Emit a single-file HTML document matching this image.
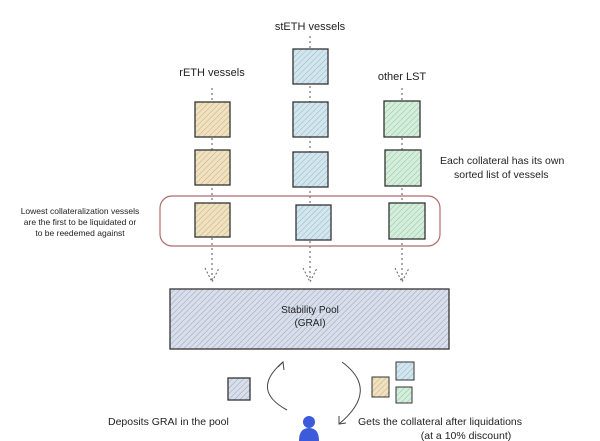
<!DOCTYPE html><html><head><style>body{margin:0;background:#fff}svg{display:block}text{font-family:"Liberation Sans",sans-serif;fill:#222}</style></head><body>
<svg width="600" height="441" viewBox="0 0 600 441" xmlns="http://www.w3.org/2000/svg">
<defs>
<pattern id="ht" width="4" height="4" patternUnits="userSpaceOnUse" patternTransform="rotate(45)"><rect width="4" height="4" fill="#efe2c2"/><line x1="0" y1="0" x2="0" y2="4" stroke="#c9ad72" stroke-width="1"/></pattern>
<pattern id="hb" width="4" height="4" patternUnits="userSpaceOnUse" patternTransform="rotate(45)"><rect width="4" height="4" fill="#d3e6ee"/><line x1="0" y1="0" x2="0" y2="4" stroke="#8fb7c8" stroke-width="1"/></pattern>
<pattern id="hg" width="4" height="4" patternUnits="userSpaceOnUse" patternTransform="rotate(45)"><rect width="4" height="4" fill="#d5eedc"/><line x1="0" y1="0" x2="0" y2="4" stroke="#8fc39f" stroke-width="1"/></pattern>
<pattern id="hp" width="4" height="4" patternUnits="userSpaceOnUse" patternTransform="rotate(45)"><rect width="4" height="4" fill="#d8deea"/><line x1="0" y1="0" x2="0" y2="4" stroke="#98a5bd" stroke-width="1"/></pattern>
</defs>
<g stroke="#555" stroke-dasharray="2,3" stroke-width="1">
<line x1="212" y1="88" x2="212" y2="280"/><line x1="310" y1="36" x2="310" y2="280"/><line x1="402" y1="88" x2="402" y2="280"/>
</g>
<g fill="none" stroke="#666" stroke-dasharray="2,2"><path d="M205 268 L212 282 L219 268"/><path d="M303 268 L310 282 L317 268"/><path d="M395 268 L402 282 L409 268"/></g>
<rect x="160" y="196" width="280" height="50" rx="12" fill="none" stroke="#b06a6a" stroke-width="1.2"/>
<g stroke="#333" stroke-width="1.3">
<rect x="195" y="102" width="35" height="35" fill="url(#ht)"/><rect x="195" y="150" width="35" height="35" fill="url(#ht)"/><rect x="195" y="203" width="35" height="34" fill="url(#ht)"/>
<rect x="293" y="49" width="35" height="35" fill="url(#hb)"/><rect x="293" y="102" width="35" height="35" fill="url(#hb)"/><rect x="293" y="152" width="35" height="35" fill="url(#hb)"/><rect x="296" y="205" width="35" height="35" fill="url(#hb)"/>
<rect x="384" y="101" width="36" height="36" fill="url(#hg)"/><rect x="385" y="150" width="36" height="36" fill="url(#hg)"/><rect x="389" y="203" width="36" height="36" fill="url(#hg)"/>
<rect x="170" y="289" width="279" height="60" fill="url(#hp)"/>
<rect x="228" y="378" width="22" height="22" fill="url(#hp)"/>
<rect x="372" y="377" width="17" height="20" fill="url(#ht)" stroke-width="1"/><rect x="396" y="362" width="18" height="18" fill="url(#hb)" stroke-width="1"/><rect x="396" y="387" width="16" height="16" fill="url(#hg)" stroke-width="1"/>
</g>
<g fill="none" stroke="#444" stroke-width="1"><path d="M287 410 Q250 390 283 362"/><path d="M278 367 L283 362 L284 370"/><path d="M342 362 Q380 390 339 424"/><path d="M339 416 L339 424 L346 423"/></g>
<circle cx="309" cy="422" r="6" fill="#3b5bdb"/><path d="M299 441 Q299 428 309 428 Q319 428 319 441 Z" fill="#3b5bdb"/>
<g font-size="10">
<text x="310" y="30" text-anchor="middle" font-size="11">stETH vessels</text>
<text x="212" y="76" text-anchor="middle" font-size="11">rETH vessels</text>
<text x="402" y="80" text-anchor="middle" font-size="11">other LST</text>
<text x="440" y="164" font-size="10.5">Each collateral has its own</text>
<text x="454" y="178" font-size="10.5">sorted list of vessels</text>
<text x="80" y="214" text-anchor="middle" font-size="8.5">Lowest collateralization vessels</text>
<text x="80" y="225" text-anchor="middle" font-size="8.5">are the first to be liquidated or</text>
<text x="80" y="236" text-anchor="middle" font-size="8.5">to be reedemed against</text>
<text x="310" y="313" text-anchor="middle">Stability Pool</text>
<text x="310" y="326" text-anchor="middle">(GRAI)</text>
<text x="108" y="425" font-size="10.5">Deposits GRAI in the pool</text>
<text x="358" y="425" font-size="10.5">Gets the collateral after liquidations</text>
<text x="466" y="439" text-anchor="middle" font-size="10.5">(at a 10% discount)</text>
</g>
</svg></body></html>
